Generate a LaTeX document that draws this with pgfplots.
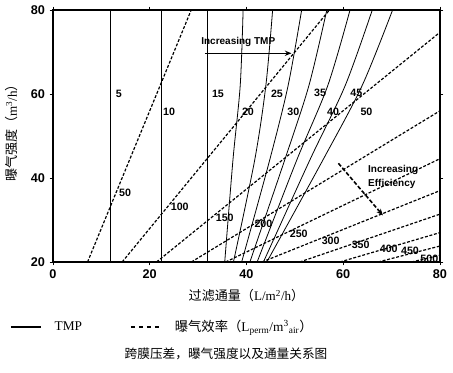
\documentclass[border=0pt]{standalone}
\usepackage{pgfplots}
\pgfplotsset{compat=1.18}
\usepackage{fontspec}
\setmainfont{Liberation Serif}
\setsansfont{Liberation Sans}
\newfontfamily\cjk{Noto Sans CJK SC}
\usetikzlibrary{arrows.meta}
\newcommand{\lbl}{\sffamily\bfseries\fontsize{8}{9}\selectfont}
\begin{document}
\begin{tikzpicture}
\useasboundingbox (-39.75pt,-82.5pt) rectangle (300pt,196.5pt);
\begin{axis}[
  at={(0pt,0pt)}, anchor=south west,
  scale only axis, width=290.25pt, height=189pt,
  xmin=0, xmax=80, ymin=20, ymax=80,
  xtick={0,20,40,60,80}, ytick={20,40,60,80},
  tick align=outside, major tick length=2.5pt,
  tick style={black, line width=0.6pt},
  axis line style={line width=0.9pt},
  ticklabel style={font=\sffamily\bfseries\fontsize{9.5}{11}\selectfont},
  /pgf/number format/assume math mode=true,
  xlabel={{\cjk 过滤通量（}L/m\textsuperscript{2}/h{\cjk ）}},
  ylabel={{\cjk 曝气强度（}m\textsuperscript{3}/h{\cjk ）}},
  label style={font=\fontsize{9.8}{11}\selectfont},
  xlabel style={at={(axis description cs:0.5,-0.135)}, anchor=center},
  ylabel style={at={(axis description cs:-0.106,0.524)}, anchor=center},
  legend columns=2,
  legend cell align=left,
  legend style={at={(axis description cs:-0.111,-0.258)}, anchor=west,
    draw=none, fill=none, inner sep=0pt,
    font=\fontsize{10}{12}\selectfont,
    /tikz/every even column/.append style={column sep=34pt},
    /tikz/every odd column/.append style={column sep=8pt}},
  tmp/.style={black, line width=0.6pt, smooth},
  eff/.style={black, line width=0.9pt, dash pattern=on 2.2pt off 1.3pt},
]
% TMP lines
\addplot[black, line width=0.6pt,
  legend image code/.code={\draw[black, line width=0.8pt] (0pt,0pt) -- (22.5pt,0pt);}]
  coordinates {(11.8,20) (11.8,80)};
\addlegendentry{TMP}
% efficiency lines
\addplot[eff,
  legend image code/.code={\draw[black, line width=1pt, dash pattern=on 3.5pt off 2.5pt] (0pt,0pt) -- (22.5pt,0pt);}]
  coordinates {(7.14,20) (28.57,80)};
\addlegendentry{{\cjk 曝气效率（}L\textsubscript{perm}/m\textsuperscript{3}\textsubscript{air}{\cjk ）}}
\addplot[eff, forget plot] coordinates {(14.29,20) (57.14,80)};
\addplot[eff, forget plot] coordinates {(21.4,20) (80,74.7)};
\addplot[eff, forget plot] coordinates {(28.6,20) (80,56)};
\addplot[eff, forget plot] coordinates {(35.7,20) (80,44.6)};
\addplot[eff, forget plot] coordinates {(43.2,20) (80,37)};
\addplot[eff, forget plot] coordinates {(51.0,20) (80,31.4)};
\addplot[eff, forget plot] coordinates {(59.3,20) (80,27)};
\addplot[eff, forget plot] coordinates {(67.2,20) (80,23.8)};
\addplot[eff, forget plot] coordinates {(74.1,20) (80,21.6)};

\addplot[black, line width=0.6pt, forget plot] coordinates {(22.4,20) (22.4,80)};
\addplot[black, line width=0.6pt, forget plot] coordinates {(31.9,20) (31.9,80)};
\addplot[tmp, forget plot] coordinates {(35.5,20) (37.2,44.3) (38.7,62) (39.3,80)};
\addplot[tmp, forget plot] coordinates {(37.3,20) (41.7,44.3) (44.0,62) (45.4,80)};
\addplot[tmp, forget plot] coordinates {(39.0,20) (44.8,44.3) (48.6,62) (51.4,80)};
\addplot[tmp, forget plot] coordinates {(40.7,20) (47.9,44.3) (52.9,62) (56.6,80)};
\addplot[tmp, forget plot] coordinates {(42.2,20) (50.4,44.3) (56.8,62) (61.4,80)};
\addplot[tmp, forget plot] coordinates {(43.5,20) (53.1,44.3) (60.4,62) (66.0,80)};
\addplot[tmp, forget plot] coordinates {(44.2,20) (55.8,44.3) (63.9,62) (70.2,80)};

% TMP labels
\node[font=\lbl] at (axis cs:13.6,60) {5};
\node[font=\lbl] at (axis cs:24.0,55.8) {10};
\node[font=\lbl] at (axis cs:34.1,60) {15};
\node[font=\lbl] at (axis cs:40.3,55.8) {20};
\node[font=\lbl] at (axis cs:46.3,60) {25};
\node[font=\lbl] at (axis cs:49.7,55.8) {30};
\node[font=\lbl] at (axis cs:55.2,60.2) {35};
\node[font=\lbl] at (axis cs:57.9,55.8) {40};
\node[font=\lbl] at (axis cs:62.7,60.2) {45};
\node[font=\lbl] at (axis cs:64.8,55.8) {50};
% efficiency labels
\node[font=\lbl] at (axis cs:14.9,36.5) {50};
\node[font=\lbl] at (axis cs:26.2,33.1) {100};
\node[font=\lbl] at (axis cs:35.5,30.6) {150};
\node[font=\lbl] at (axis cs:43.5,29.0) {200};
\node[font=\lbl] at (axis cs:50.8,26.8) {250};
\node[font=\lbl] at (axis cs:57.4,25.1) {300};
\node[font=\lbl] at (axis cs:63.6,24.0) {350};
\node[font=\lbl] at (axis cs:69.4,23.1) {400};
\node[font=\lbl] at (axis cs:73.8,22.6) {450};
\node[font=\lbl] at (axis cs:77.8,20.8) {500};
% annotations
\node[font=\sffamily\bfseries\fontsize{7.5}{9}\selectfont] at (axis cs:38.3,72.3) {Increasing TMP};
\draw[-{Stealth[length=5pt,width=4pt]}, line width=1.1pt] (axis cs:31.4,69.7) -- (axis cs:49.3,69.7);
\node[font=\sffamily\bfseries\fontsize{7.5}{10.5}\selectfont, align=left, anchor=west, inner sep=0pt] at (axis cs:65.1,40.2) {Increasing\\Efficiency};
\draw[-{Stealth[length=5pt,width=4pt]}, line width=1.2pt, dash pattern=on 3pt off 1.5pt] (axis cs:59.0,43.5) -- (axis cs:68.2,31.1);
\end{axis}
\node[font=\cjk\fontsize{9.5}{11}\selectfont] at (129.75pt,-68.6pt) {跨膜压差，曝气强度以及通量关系图};
\end{tikzpicture}
\end{document}
